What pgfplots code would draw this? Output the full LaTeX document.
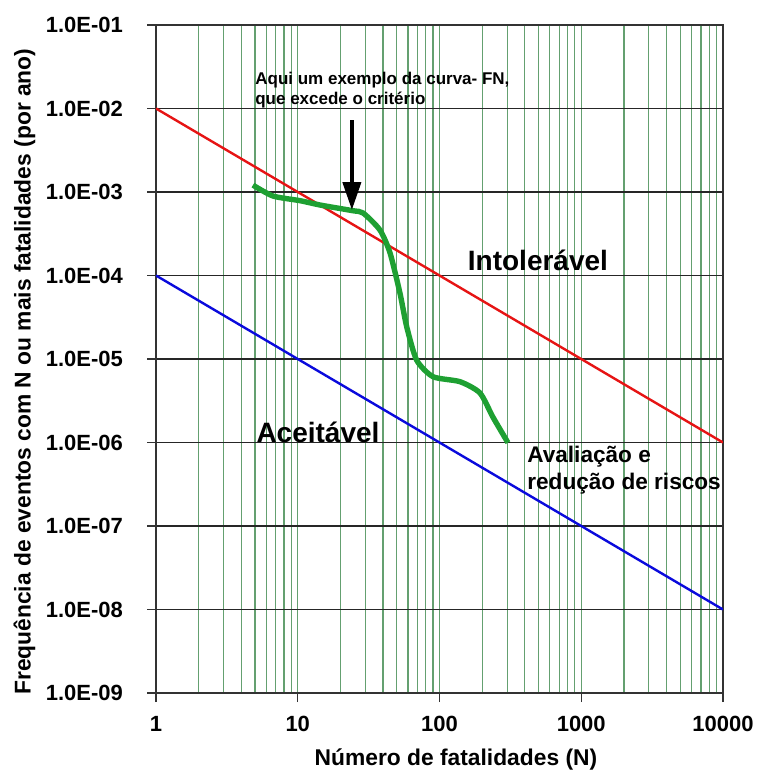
\documentclass[border=0pt]{standalone}
\usepackage{pgfplots}
\pgfplotsset{compat=1.18}
\usepackage{fontspec}
\setmainfont{Liberation Sans}
\usetikzlibrary{arrows.meta}
\definecolor{gridgreen}{RGB}{100,160,112}
\definecolor{fngreen}{RGB}{30,160,50}
\definecolor{lred}{RGB}{230,20,20}
\definecolor{lblue}{RGB}{10,10,220}
\begin{document}
\begin{tikzpicture}
\begin{axis}[name=ax, scale only axis, width=283.5pt, height=334pt,
 xmode=log, ymode=log, xmin=1, xmax=10000, ymin=1e-9, ymax=1e-1,
 xtick={1,10,100,1000,10000}, xticklabels={1,10,100,1000,10000},
 ytick={1e-9,1e-8,1e-7,1e-6,1e-5,1e-4,1e-3,1e-2,1e-1},
 yticklabels={1.0E-09,1.0E-08,1.0E-07,1.0E-06,1.0E-05,1.0E-04,1.0E-03,1.0E-02,1.0E-01},
 minor xtick={2,3,...,9,20,30,...,90,200,300,...,900,2000,3000,...,9000},
 minor ytick={},
 xmajorgrids, xminorgrids, ymajorgrids,
 major x grid style={gridgreen, line width=0.6pt},
 minor x grid style={gridgreen, line width=0.6pt},
 major y grid style={black!85, line width=0.6pt},
 tick align=outside, major tick length=4.5pt, minor tick length=0pt,
 xtick pos=bottom, ytick pos=left,
 tick style={black!80, line width=0.6pt},
 axis line style={black!80, line width=0.7pt},
 ticklabel style={font=\bfseries\fontsize{11}{13}\selectfont},
 xticklabel style={yshift=-3.5pt},
 yticklabel style={xshift=-8.5pt},
 xlabel={Número de fatalidades (N)},
 ylabel={Frequência de eventos com N ou mais fatalidades (por ano)},
 label style={font=\bfseries\fontsize{11.4}{13}\selectfont},
 xlabel style={at={(axis description cs:0.529,-0.100)}, anchor=center},
 ylabel style={at={(axis description cs:-0.232,0.481)}, anchor=center},
]
\addplot[lred, line width=1.2pt] coordinates {(1,1e-2) (10000,1e-6)};
\addplot[lblue, line width=1.2pt] coordinates {(1,1e-4) (10000,1e-8)};
\addplot[fngreen, line width=2.7pt, smooth, tension=0.4] coordinates {
(4.83,1.21e-3) (6.69,8.95e-4) (10.4,7.87e-4) (14.4,6.98e-4) (24.5,5.97e-4)
(28.9,5.61e-4) (38.0,3.51e-4) (44.8,1.86e-4) (52.6,6.17e-5) (58.7,2.44e-5)
(69.0,9.7e-6) (90,6.14e-6) (139.6,5.35e-6) (193,3.92e-6) (238,2.02e-6) (304,9.96e-7)};
\node[font=\bfseries\fontsize{14}{16}\selectfont] at (axis cs:495,1.53e-4) {Intolerável};
\node[font=\bfseries\fontsize{14}{16}\selectfont] at (axis cs:13.9,1.34e-6) {Aceitável};
\node[anchor=west, align=left, inner sep=0pt, font=\bfseries\fontsize{11.3}{13.5}\selectfont] at (axis cs:414,4.68e-7) {Avaliação e\\redução de riscos};
\node[anchor=west, align=left, inner sep=0pt, font=\bfseries\fontsize{8.5}{10}\selectfont] at (axis cs:4.99,1.67e-2) {Aqui um exemplo da curva- FN,\\que excede o critério};
\draw[line width=2pt, -{Triangle[width=9pt,length=14pt]}] (axis cs:24.1,7.28e-3) -- (axis cs:24.1,6.08e-4);
\end{axis}
\pgfresetboundingbox
\path ([shift={(-78pt,-39.5pt)}]ax.south west) rectangle ([shift={(17.5pt,12.5pt)}]ax.north east);
\end{tikzpicture}
\end{document}
